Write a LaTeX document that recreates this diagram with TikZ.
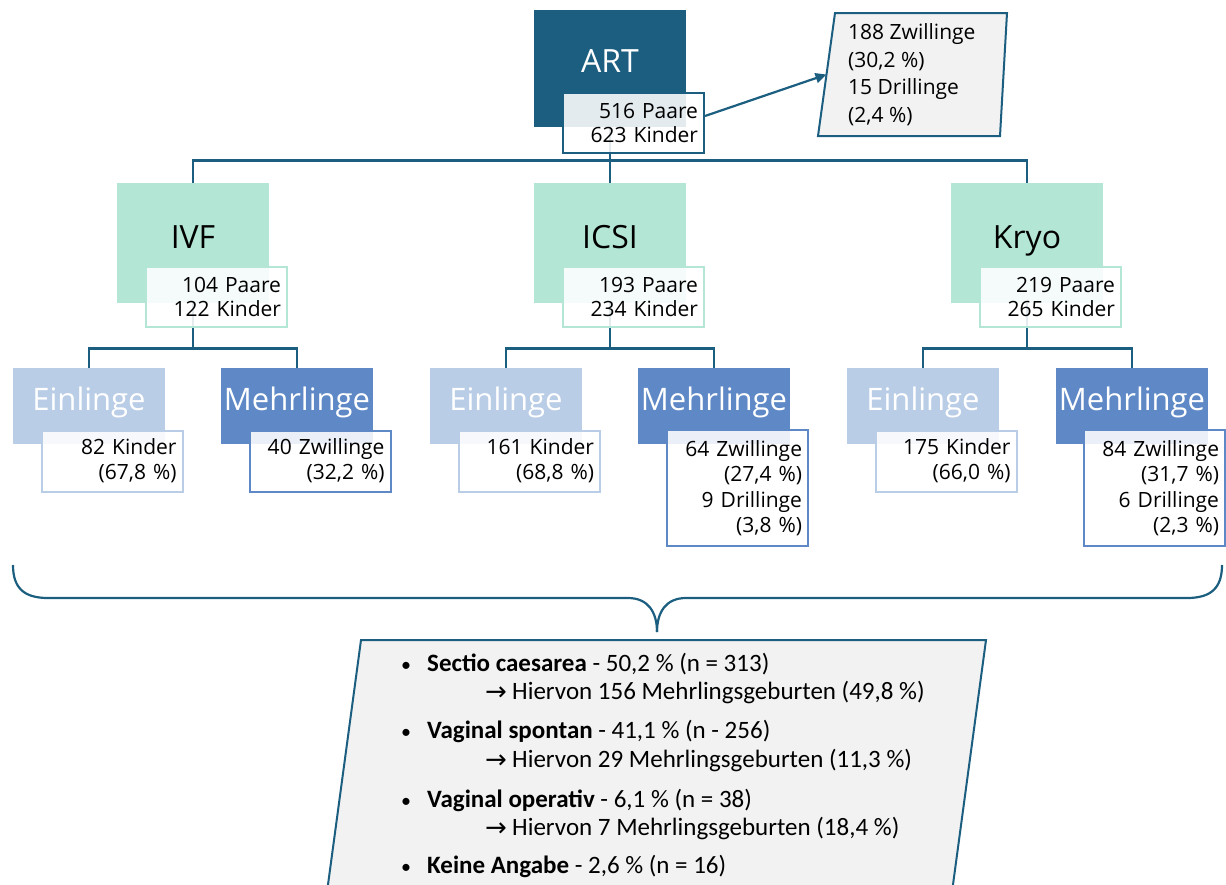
\documentclass[tikz,border=0pt]{standalone}
\usepackage{fontspec}
\setmainfont{Open Sans}
\newfontfamily\narrowfont{Carlito}
\newfontfamily\symfont{DejaVu Sans}
\usetikzlibrary{arrows.meta,calc}

\definecolor{artblue}{RGB}{27,94,128}
\definecolor{mint}{RGB}{180,230,214}
\definecolor{paleblue}{RGB}{186,205,230}
\definecolor{midblue}{RGB}{94,136,198}
\definecolor{panel}{RGB}{242,242,242}

\begin{document}
\begin{tikzpicture}[x=1pt,y=-1pt,
  conn/.style={draw=artblue,line width=2.6pt},
  topbox/.style={rectangle,inner sep=0pt,minimum width=152pt,minimum height=117pt,fill=#1},
  midbox/.style={rectangle,inner sep=0pt,minimum width=152pt,minimum height=120pt,fill=#1},
  lowbox/.style={rectangle,inner sep=0pt,minimum width=152pt,minimum height=76pt,fill=#1},
  bigtext/.style={inner sep=0pt,text height=22.8pt,text depth=0pt,text=#1,font=\fontsize{32}{36}\selectfont},
  lowtext/.style={inner sep=0pt,text height=22.1pt,text depth=0pt,text=#1,font=\fontsize{31}{36}\selectfont},
  infobox/.style={rectangle,draw=#1,line width=2pt,fill=white,fill opacity=0.88,text opacity=1,
    align=right,text width=129pt,inner xsep=6pt,inner ysep=0pt,font=\fontsize{21}{24.5}\selectfont},
  tallinfo/.style={infobox=#1,minimum height=116pt,font=\fontsize{21}{25.5}\selectfont},
  shortinfo/.style={infobox=#1,minimum height=61pt,font=\fontsize{21}{25}\selectfont},
  panelline/.style={draw=artblue,line width=2pt,fill=panel},
  listtext/.style={anchor=base west,inner sep=0pt,font=\narrowfont\fontsize{25}{28}\selectfont},
  listarrow/.style={anchor=base west,inner sep=0pt,font=\symfont\fontsize{26}{30}\selectfont}
]
\useasboundingbox (0,0) rectangle (1226,884);
\clip (0,0) rectangle (1226,884);

% ---- coloured boxes ----
\node[topbox=artblue] (art) at (610,68.5) {};
\node[midbox=mint] (ivf)  at (193,243) {};
\node[midbox=mint] (icsi) at (610,243) {};
\node[midbox=mint] (kryo) at (1027,243) {};

\node[lowbox=paleblue] (ivfE)  at (89,406) {};
\node[lowbox=midblue]  (ivfM)  at (297,406) {};
\node[lowbox=paleblue] (icsiE) at (506,406) {};
\node[lowbox=midblue]  (icsiM) at (714,406) {};
\node[lowbox=paleblue] (kryoE) at (923,406) {};
\node[lowbox=midblue]  (kryoM) at (1132,406) {};

% ---- box titles ----
\node[bigtext=white] (artT) at (610,61.5) {ART};
\node[bigtext=black] (ivfT) at (193,237.5) {IVF};
\node[bigtext=black] (icsiT) at (610,237.5) {ICSI};
\node[bigtext=black] (kryoT) at (1027,237.5) {Kryo};
\foreach \n/\x in {ivfE/89,icsiE/506,kryoE/923}
  \node[lowtext=white] (\n T) at (\x,399.5) {Einlinge};
\foreach \n/\x in {ivfM/297,icsiM/714,kryoM/1132}
  \node[lowtext=white] (\n T) at (\x,399.5) {Mehrlinge};

% ---- tree connectors ----
\draw[conn] (art.south) -- ++(0,33) coordinate (bus1);
\draw[conn] (ivf.north) |- (bus1) -| (kryo.north);
\draw[conn] (bus1) -- (icsi.north);

\draw[conn] (ivf.south) -- ++(0,45) coordinate (busA);
\draw[conn] (ivfE.north) |- (busA) -| (ivfM.north);
\draw[conn] (icsi.south) -- ++(0,45) coordinate (busB);
\draw[conn] (icsiE.north) |- (busB) -| (icsiM.north);
\draw[conn] (kryo.south) -- ++(0,45) coordinate (busC);
\draw[conn] (kryoE.north) |- (busC) -| (kryoM.north);

% ---- count boxes ----
\node[infobox=artblue,minimum height=60pt] (artI) at (633.5,123) {516 Paare\\623 Kinder};
\node[infobox=mint,minimum height=60pt] (ivfI)  at (216.5,297) {104 Paare\\122 Kinder};
\node[infobox=mint,minimum height=60pt] (icsiI) at (633.5,297) {193 Paare\\234 Kinder};
\node[infobox=mint,minimum height=60pt] (kryoI) at (1050.5,297) {219 Paare\\265 Kinder};

\node[shortinfo=paleblue] (ivfEI)  at (112,461) {82 Kinder\\(67,8 \%)};
\node[shortinfo=midblue]  (ivfMI)  at (320,461) {40 Zwillinge\\(32,2 \%)};
\node[shortinfo=paleblue] (icsiEI) at (529.5,461) {161 Kinder\\(68,8 \%)};
\node[tallinfo=midblue]   (icsiMI) at (737.5,488) {64 Zwillinge\\(27,4 \%)\\9 Drillinge\\(3,8 \%)};
\node[shortinfo=paleblue] (kryoEI) at (946,461) {175 Kinder\\(66,0 \%)};
\node[tallinfo=midblue]   (kryoMI) at (1154.5,488) {84 Zwillinge\\(31,7 \%)\\6 Drillinge\\(2,3 \%)};

% ---- multiples summary (parallelogram) ----
\draw[panelline] (835,13) -- (1007,13) -- (1000,136) -- (818,136) -- cycle;
\coordinate (multL) at (826.5,74.5);
\node[anchor=west,align=left,inner sep=0pt,font=\fontsize{21}{27.5}\selectfont] (multT) at (848,74.5)
  {188 Zwillinge\\(30,2 \%)\\15 Drillinge\\(2,4 \%)};
\draw[draw=artblue,line width=2.2pt,-{Triangle[length=11pt,width=10pt]}] ([yshift=7pt]artI.east) -- (multL);

% ---- brace ----
\coordinate (braceTip) at (657,632);
\draw[conn,line width=2.2pt] (13,565) .. controls (13,588) and (24,598) .. (48,598) -- (628,598)
  .. controls (648,598) and (657,612) .. (braceTip);
\draw[conn,line width=2.2pt] (braceTip) .. controls (657,612) and (666,598) .. (686,598) -- (1187,598)
  .. controls (1211,598) and (1222,588) .. (1222,565);

% ---- delivery mode panel ----
\draw[panelline] (361,640) -- (986,640) -- (952,892) -- (327,892) -- cycle;

\foreach \y in {671,738,807,873}
  \node[listtext,font=\narrowfont\fontsize{20}{24}\selectfont] at (401,\y) {•};
\foreach \y in {700,768,836}
  \node[listarrow] at (485,\y) {→};
\node[listtext] (m1) at (427,671) {\textbf{Sectio caesarea} - 50,2 \% (n = 313)};
\node[listtext] (m1a) at (512,699) {Hiervon 156 Mehrlingsgeburten (49,8 \%)};
\node[listtext] (m2) at (427,738) {\textbf{Vaginal spontan} - 41,1 \% (n - 256)};
\node[listtext] (m2a) at (512,767) {Hiervon 29 Mehrlingsgeburten (11,3 \%)};
\node[listtext] (m3) at (427,807) {\textbf{Vaginal operativ} - 6,1 \% (n = 38)};
\node[listtext] (m3a) at (512,835) {Hiervon 7 Mehrlingsgeburten (18,4 \%)};
\node[listtext] (m4) at (427,873) {\textbf{Keine Angabe} - 2,6 \% (n = 16)};
\end{tikzpicture}
\end{document}
